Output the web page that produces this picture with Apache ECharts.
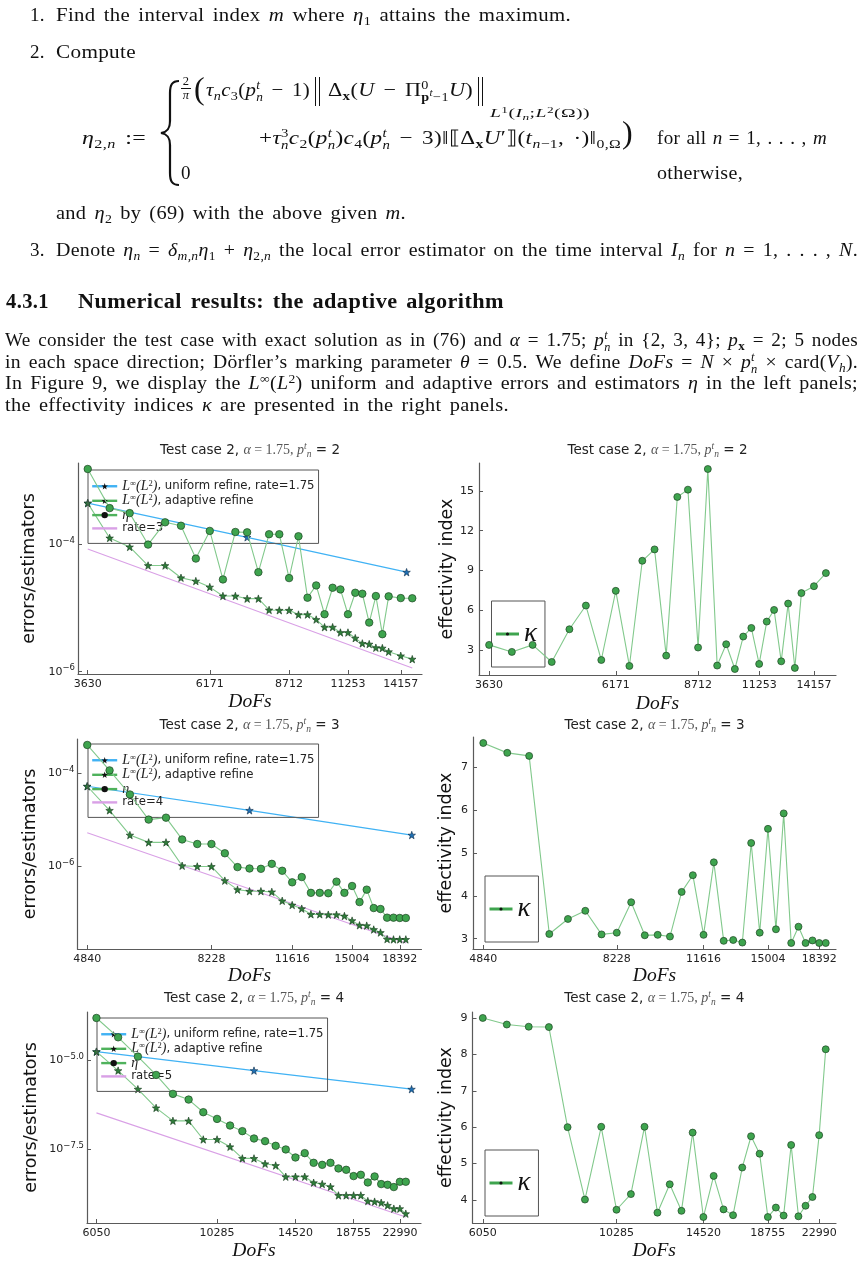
<!DOCTYPE html>
<html><head><meta charset="utf-8">
<script src="https://cdn.jsdelivr.net/npm/echarts@6.0.0/dist/echarts.min.js"></script>
<style>
html,body{margin:0;padding:0;background:#fff;}
#wrap{position:relative;width:862px;height:1265px;overflow:hidden;background:#fff}
#chart{position:absolute;left:0;top:0;width:862px;height:1265px;z-index:1}
#txt{position:absolute;left:0;top:0;width:862px;height:432px;font-family:'Liberation Serif','DejaVu Serif',serif;font-size:19px;letter-spacing:0.3px;color:#111;z-index:2}
.ln{position:absolute;white-space:nowrap;line-height:22px;transform-origin:0 50%}
i{font-style:italic}
sub,sup{font-size:68%;line-height:0;position:relative;vertical-align:baseline}
sub{top:0.3em}
sup{top:-0.45em}
.ss{display:inline-flex;flex-direction:column;font-size:64%;line-height:0.95em;vertical-align:0.55em;font-style:italic}
.ss sup{font-size:80%}
.frac{position:absolute;display:flex;flex-direction:column;align-items:center;font-size:12.5px;line-height:11px;width:12px}
.bar{width:10px;height:0;border-top:1px solid #111;margin:1px 0}
.big{position:absolute;font-size:32px;line-height:32px}
.dbar{position:absolute;width:3px;height:29px;border-left:1.2px solid #111;border-right:1.2px solid #111}
.hd{font-weight:bold;font-size:20.5px;letter-spacing:0.4px}
</style></head>
<body>
<div id="wrap">
<div id="chart"></div>
<div id="txt">
<div class="ln" style="left:30px;top:4px">1.</div>
<div class="ln" data-w="515" style="left:56px;top:4px">Find the interval index <i>m</i> where <i>η</i><sub>1</sub> attains the maximum.</div>
<div class="ln" style="left:30px;top:41px">2.</div>
<div class="ln" data-w="80" style="left:56px;top:41px">Compute</div>
<div class="ln" data-w="64" style="left:82px;top:127px"><i>η</i><sub>2,<i>n</i></sub> :=</div>
<svg style="position:absolute;left:158px;top:79px" width="26" height="108"><path d="M21 2 C14 2 12 6 12 14 L12 42 C12 50 9 53 3 54 C9 55 12 58 12 66 L12 94 C12 102 14 106 21 106" fill="none" stroke="#111" stroke-width="2.2"/></svg>
<div class="frac" style="left:180px;top:76px"><span>2</span><span class="bar"></span><span><i>π</i></span></div>
<div class="big" style="left:194px;top:72px">(</div>
<div class="ln" data-w="104" style="left:206px;top:79px"><i>τ<sub>n</sub>c</i><sub>3</sub>(<i>p</i><span class="ss"><span>t</span><span>n</span></span> − 1)</div>
<div class="dbar" style="left:315px;top:77px"></div>
<div class="ln" data-w="145" style="left:328px;top:79px">Δ<sub><b>x</b></sub>(<i>U</i> − Π<span class="ss"><span style="font-style:normal">0</span><span><b style="font-style:normal">p</b><sup>t</sup><span style="font-style:normal">−1</span></span></span><i>U</i>)</div>
<div class="dbar" style="left:478px;top:77px"></div>
<div class="ln" data-w="100" style="left:490px;top:105px;font-size:13px;line-height:16px"><i>L</i><sup>1</sup>(<i>I<sub>n</sub></i>;<i>L</i><sup>2</sup>(Ω))</div>
<div class="ln" data-w="362" style="left:259px;top:127px">+<i>τ</i><span class="ss"><span style="font-style:normal">3</span><span>n</span></span><i>c</i><sub>2</sub>(<i>p</i><span class="ss"><span>t</span><span>n</span></span>)<i>c</i><sub>4</sub>(<i>p</i><span class="ss"><span>t</span><span>n</span></span> − 3)‖⟦Δ<sub><b>x</b></sub><i>U</i>′⟧(<i>t</i><sub><i>n</i>−1</sub>, ·)‖<sub>0,Ω</sub></div>
<div class="big" style="left:622px;top:116px">)</div>
<div class="ln" data-w="170" style="left:657px;top:127px">for all <i>n</i> = 1, . . . , <i>m</i></div>
<div class="ln" style="left:181px;top:162px">0</div>
<div class="ln" data-w="86" style="left:657px;top:162px">otherwise,</div>
<div class="ln" data-w="350" style="left:56px;top:202px">and <i>η</i><sub>2</sub> by (69) with the above given <i>m</i>.</div>
<div class="ln" style="left:30px;top:239px">3.</div>
<div class="ln" data-w="802" style="left:56px;top:239px">Denote <i>η<sub>n</sub></i> = <i>δ</i><sub><i>m,n</i></sub><i>η</i><sub>1</sub> + <i>η</i><sub>2,<i>n</i></sub> the local error estimator on the time interval <i>I<sub>n</sub></i> for <i>n</i> = 1, . . . , <i>N</i>.</div>
<div class="ln hd" style="left:6px;top:290px">4.3.1</div>
<div class="ln hd" data-w="426" style="left:78px;top:290px">Numerical results: the adaptive algorithm</div>
<div class="ln" data-w="853" style="left:5px;top:329px">We consider the test case with exact solution as in (76) and <i>α</i> = 1.75; <i>p</i><span class="ss"><span>t</span><span>n</span></span> in {2, 3, 4}; <i>p</i><sub><b>x</b></sub> = 2; 5 nodes</div>
<div class="ln" data-w="853" style="left:5px;top:351px">in each space direction; Dörfler’s marking parameter <i>θ</i> = 0.5. We define <i>DoFs</i> = <i>N</i> × <i>p</i><span class="ss"><span>t</span><span>n</span></span> × card(<i>V<sub>h</sub></i>).</div>
<div class="ln" data-w="853" style="left:5px;top:372px">In Figure 9, we display the <i>L</i><sup>∞</sup>(<i>L</i><sup>2</sup>) uniform and adaptive errors and estimators <i>η</i> in the left panels;</div>
<div class="ln" data-w="504" style="left:5px;top:394px">the effectivity indices <i>κ</i> are presented in the right panels.</div>
</div>
</div>
<script>
// ---------- data ----------
const dofsP2 = [3630,3993,4356,4719,5082,5445,5808,6171,6534,6897,7260,7623,7986,8349,8712,9075,9438,9801,10164,10527,10890,11253,11616,11979,12342,12705,13068,13431,14157,14883];
const etaP2 = [1.493e-3,3.64e-4,3.04e-4,9.77e-5,2.18e-4,1.93e-4,5.90e-5,1.60e-4,2.78e-5,1.54e-4,1.52e-4,3.61e-5,1.42e-4,1.42e-4,2.92e-5,1.32e-4,1.44e-5,2.24e-5,7.93e-6,2.06e-5,1.94e-5,7.93e-6,1.72e-5,1.66e-5,5.87e-6,1.53e-5,3.86e-6,1.51e-5,1.42e-5,1.41e-5];
const errP2 = [4.36e-4,1.24e-4,8.97e-5,4.59e-5,4.59e-5,2.95e-5,2.62e-5,2.11e-5,1.53e-5,1.53e-5,1.39e-5,1.39e-5,9.25e-6,9.14e-6,9.14e-6,7.83e-6,7.83e-6,6.55e-6,4.97e-6,4.97e-6,4.10e-6,4.10e-6,3.35e-6,2.77e-6,2.70e-6,2.37e-6,2.34e-6,2.05e-6,1.77e-6,1.57e-6];
const kappaP2 = [3.38,2.85,3.38,2.09,4.56,6.35,2.24,7.46,1.79,9.73,10.59,2.57,14.55,15.10,3.18,16.66,1.82,3.43,1.56,4.01,4.66,1.94,5.14,6.02,2.14,6.50,1.64,7.29,7.81,8.80];
const uniDofsP2 = [3630,7260,14520];
const uniP2 = [4.36e-4,1.27e-4,3.61e-5];
const rateDofsP2 = [3630,14883];
const rateP2 = [8.36e-5,1.14e-6];
const xTicksP2 = [3630,6171,8712,11253,14157];
const yTicksP2 = [1e-4,1e-6];
const kTicksP2 = [3,6,9,12,15];

const dofsP3 = [4840,5324,5808,6292,6776,7260,7744,8228,8712,9196,9680,10164,10648,11132,11616,12100,12584,13068,13552,14036,14520,15004,15488,15972,16456,16940,17424,17908,18392,18876];
const etaP3 = [4.01e-4,1.14e-4,3.46e-5,1.00e-5,1.10e-5,3.75e-6,2.99e-6,2.99e-6,1.89e-6,9.53e-7,8.91e-7,8.77e-7,1.12e-6,7.96e-7,4.49e-7,5.83e-7,2.67e-7,2.67e-7,2.62e-7,4.65e-7,2.67e-7,3.75e-7,1.69e-7,3.13e-7,1.26e-7,1.20e-7,7.83e-8,7.83e-8,7.71e-8,7.71e-8];
const errP3 = [5.20e-5,1.58e-5,4.65e-6,3.24e-6,3.24e-6,1.02e-6,9.84e-7,9.84e-7,4.88e-7,3.13e-7,2.89e-7,2.89e-7,2.80e-7,1.80e-7,1.46e-7,1.22e-7,9.23e-8,9.23e-8,9.06e-8,9.06e-8,8.49e-8,6.76e-8,5.37e-8,5.28e-8,4.35e-8,3.75e-8,2.71e-8,2.67e-8,2.67e-8,2.67e-8];
const kappaP3 = [7.56,7.33,7.26,3.11,3.46,3.65,3.10,3.14,3.85,3.08,3.09,3.05,4.09,4.48,3.09,4.78,2.95,2.97,2.91,5.23,3.14,5.56,3.22,5.92,2.90,3.28,2.90,2.96,2.90,2.90];
const uniDofsP3 = [4840,9680,19360];
const uniP3 = [5.20e-5,1.58e-5,4.65e-6];
const rateDofsP3 = [4840,18876];
const rateP3 = [5.20e-6,2.23e-8];
const xTicksP3 = [4840,8228,11616,15004,18392];
const yTicksP3 = [1e-4,1e-6];
const kTicksP3 = [3,4,5,6,7];

const dofsP4 = [6050,6655,7260,7865,8470,9075,9680,10285,10890,11495,12100,12705,13310,13915,14520,15125,15730,16335,16940,17545,18150,18755,19360,19965,20570,21175,21780,22385,22990,23595];
const etaP4 = [1.60e-4,4.55e-5,1.30e-5,3.94e-6,1.15e-6,7.94e-7,3.49e-7,2.26e-7,1.47e-7,1.02e-7,6.32e-8,5.32e-8,3.93e-8,3.10e-8,1.84e-8,2.44e-8,1.30e-8,1.14e-8,1.30e-8,9.02e-9,8.26e-9,5.48e-9,5.97e-9,3.63e-9,5.36e-9,3.26e-9,3.12e-9,2.69e-9,3.79e-9,3.79e-9];
const errP4 = [1.79e-5,5.22e-6,1.56e-6,4.62e-7,1.99e-7,1.99e-7,5.93e-8,5.93e-8,3.68e-8,1.73e-8,1.73e-8,1.22e-8,1.09e-8,5.25e-9,5.25e-9,5.25e-9,3.56e-9,3.26e-9,2.74e-9,1.56e-9,1.56e-9,1.56e-9,1.56e-9,1.08e-9,1.04e-9,9.70e-10,8.17e-10,6.58e-10,6.58e-10,4.75e-10];
const kappaP4 = [9.00,8.82,8.76,8.75,6.00,4.01,6.01,3.73,4.16,6.01,3.65,4.43,3.70,5.85,3.53,4.66,3.74,3.58,4.89,5.75,5.27,3.53,3.79,3.57,5.51,3.55,3.84,4.08,5.78,8.14];
const uniDofsP4 = [6050,12100,24200];
const uniP4 = [1.79e-5,5.22e-6,1.56e-6];
const rateDofsP4 = [6050,23595];
const rateP4 = [3.34e-7,3.83e-10];
const xTicksP4 = [6050,10285,14520,18755,22990];
const yTicksP4 = [1e-5,3.16228e-8];
const kTicksP4 = [4,5,6,7,8,9];

const panelP = ['2','3','4'];
const rateLabels = ['rate=3','rate=4','rate=5'];

// ---------- text fitting for the page text ----------
document.querySelectorAll('#txt [data-w]').forEach(el => {
  const target = +el.dataset.w;
  const w0 = el.getBoundingClientRect().width;
  const spaces = (el.textContent.match(/ /g) || []).length;
  let w1 = w0;
  if (w0 < target && spaces > 0) {
    const ws = Math.min((target - w0) / spaces, 2.5);
    el.style.wordSpacing = ws + 'px';
    w1 = w0 + ws * spaces;
  }
  if (Math.abs(w1 - target) > 0.5) el.style.transform = 'scaleX(' + (target / w1) + ')';
});

// ---------- chart ----------
const SANS = "'DejaVu Sans', sans-serif";
const SERIF = "'Liberation Serif', 'DejaVu Serif', serif";
const AX = '#5a5a5a', LAB = '#222';
const GREEN = '#3ea44e', GREENLINE = '#82c98c', BLUELINE = '#40b2f4', RATE = '#d9a0e6';
const STAR = 'path://M0,-10 L2.35,-3.24 9.51,-3.09 3.8,1.24 5.88,8.09 0,4 -5.88,8.09 -3.8,1.24 -9.51,-3.09 -2.35,-3.24 Z';

const data = [
  {dofs:dofsP2, eta:etaP2, err:errP2, kappa:kappaP2, uniX:uniDofsP2, uni:uniP2, rateX:rateDofsP2, rate:rateP2, xt:xTicksP2, yt:yTicksP2, kt:kTicksP2, yDec:0},
  {dofs:dofsP3, eta:etaP3, err:errP3, kappa:kappaP3, uniX:uniDofsP3, uni:uniP3, rateX:rateDofsP3, rate:rateP3, xt:xTicksP3, yt:yTicksP3, kt:kTicksP3, yDec:0},
  {dofs:dofsP4, eta:etaP4, err:errP4, kappa:kappaP4, uniX:uniDofsP4, uni:uniP4, rateX:rateDofsP4, rate:rateP4, xt:xTicksP4, yt:yTicksP4, kt:kTicksP4, yDec:1}
];
const layout = [
  {gL:{left:78,top:463,width:344,height:211}, gR:{left:479,top:463,width:357,height:212}, titleTop:441, legL:[88,470], legR:[491.5,601], yGapL:40, yGapR:22, xGapL:18, xGapR:19},
  {gL:{left:77.5,top:739,width:344,height:210}, gR:{left:473,top:737,width:363,height:212}, titleTop:716, legL:[88,744], legR:[485,876], yGapL:38, yGapR:18, xGapL:17, xGapR:17},
  {gL:{left:87,top:1012,width:334,height:211}, gR:{left:472.5,top:1012,width:363.5,height:211}, titleTop:989, legL:[97,1018], legR:[485,1150], yGapL:47, yGapR:17, xGapL:18, xGapR:18}
];

function logRange(arrs) {
  const all = [].concat(...arrs);
  const lo = Math.log10(Math.min(...all)), hi = Math.log10(Math.max(...all));
  const pad = (hi - lo) * 0.03;
  return [Math.pow(10, lo - pad), Math.pow(10, hi + pad)];
}
function linRange(a) {
  const lo = Math.min(...a), hi = Math.max(...a), pad = (hi - lo) * 0.03;
  return [lo - pad, hi + pad];
}
function pairs(xs, ys) { return xs.map((x, i) => [x, ys[i]]); }

const titleRich = {
  a:{fontFamily:SANS, fontSize:13.5, fontWeight:'normal', color:'#222', lineHeight:18},
  mi:{fontFamily:SERIF, fontStyle:'italic', fontWeight:'normal', fontSize:14, color:'#555', lineHeight:18},
  m:{fontFamily:SERIF, fontWeight:'normal', fontSize:14, color:'#555', lineHeight:18},
  u:{fontFamily:SERIF, fontStyle:'italic', fontWeight:'normal', fontSize:9.5, color:'#555', lineHeight:9, verticalAlign:'top'},
  d:{fontFamily:SERIF, fontStyle:'italic', fontWeight:'normal', fontSize:9.5, color:'#555', lineHeight:9, verticalAlign:'bottom'}
};
const legRich = {
  t:{fontFamily:SANS, fontSize:11.7, color:'#222', lineHeight:14.5},
  i:{fontFamily:SERIF, fontStyle:'italic', fontSize:14, color:'#222', lineHeight:14.5},
  s:{fontFamily:SERIF, fontSize:8.5, color:'#222', lineHeight:8, verticalAlign:'top'},
  k:{fontFamily:SERIF, fontStyle:'italic', fontSize:27, color:'#111', lineHeight:26}
};
const legNames = {
  uniform:'{i|L}{s|∞}{i|(L}{s|2}{i|)}{t|, uniform refine, rate=1.75}',
  adaptive:'{i|L}{s|∞}{i|(L}{s|2}{i|)}{t|, adaptive refine}',
  eta:'{i|η}',
  rate0:'{t|' + rateLabels[0] + '}', rate1:'{t|' + rateLabels[1] + '}', rate2:'{t|' + rateLabels[2] + '}',
  kappa:'{k|κ}'
};
const axisBase = (gi) => ({
  gridIndex: gi,
  axisLine:{show:true, onZero:false, lineStyle:{color:AX, width:1.2}},
  splitLine:{show:false}, minorTick:{show:false}, minorSplitLine:{show:false}
});

const option = {animation:false, backgroundColor:'transparent', title:[], grid:[], xAxis:[], yAxis:[], legend:[], series:[]};

data.forEach((d, r) => {
  const L = layout[r];
  const gl = 2 * r, gr = 2 * r + 1;
  option.grid.push(Object.assign({outerBoundsMode:'none', containLabel:false}, L.gL));
  option.grid.push(Object.assign({outerBoundsMode:'none', containLabel:false}, L.gR));
  [L.gL, L.gR].forEach(g => {
    option.title.push({
      text:'{a|Test case 2, }{mi|α}{m| = 1.75, }{mi|p}{u|t}{d|n}{a| = ' + panelP[r] + '}',
      left: g.left + g.width / 2, top: L.titleTop, textAlign:'center', padding:0,
      textStyle:{fontWeight:'normal', rich:titleRich}
    });
  });
  const xrL = logRange([d.dofs, d.uniX, d.rateX]);
  const xrR = logRange([d.dofs]);
  const yrL = logRange([d.eta, d.err, d.uni, d.rate]);
  const yrR = linRange(d.kappa);
  const xAxisCfg = (gi, xr, gap) => Object.assign(axisBase(gi), {
    type:'log', logBase:10, min:xr[0], max:xr[1],
    axisTick:{show:true, inside:true, length:4, customValues:d.xt, lineStyle:{color:AX}},
    axisLabel:{show:true, customValues:d.xt, formatter:v => String(Math.round(v)), fontFamily:SANS, fontSize:11, color:LAB, margin:5},
    name:'DoFs', nameLocation:'middle', nameGap:gap,
    nameTextStyle:{fontFamily:SERIF, fontStyle:'italic', fontSize:19.5, color:'#111'}
  });
  option.xAxis.push(xAxisCfg(gl, xrL, L.xGapL));
  option.xAxis.push(xAxisCfg(gr, xrR, L.xGapR));
  option.yAxis.push(Object.assign(axisBase(gl), {
    type:'log', logBase:10, min:yrL[0], max:yrL[1],
    axisTick:{show:true, inside:true, length:4, customValues:d.yt, lineStyle:{color:AX}},
    axisLabel:{show:true, customValues:d.yt, margin:3,
      formatter:v => '{b|10}{e|' + Math.log10(v).toFixed(d.yDec).replace('-', '−') + '}',
      rich:{b:{fontFamily:SANS, fontSize:11, color:LAB, lineHeight:16}, e:{fontFamily:SANS, fontSize:8.5, color:LAB, lineHeight:9, verticalAlign:'top'}}},
    name:'errors/estimators', nameLocation:'middle', nameRotate:90, nameGap:L.yGapL,
    nameTextStyle:{fontFamily:SANS, fontSize:17.5, color:'#111'}
  }));
  option.yAxis.push(Object.assign(axisBase(gr), {
    type:'value', min:yrR[0], max:yrR[1],
    axisTick:{show:true, inside:true, length:4, customValues:d.kt, lineStyle:{color:AX}},
    axisLabel:{show:true, customValues:d.kt, margin:5, fontFamily:SANS, fontSize:11, color:LAB},
    name:'effectivity index', nameLocation:'middle', nameRotate:90, nameGap:L.yGapR,
    nameTextStyle:{fontFamily:SANS, fontSize:17.5, color:'#111'}
  }));
  const rateName = 'rate' + r;
  option.series.push(
    {name:rateName, type:'line', xAxisIndex:gl, yAxisIndex:gl, data:pairs(d.rateX, d.rate), symbol:'none', z:1,
      lineStyle:{color:RATE, width:1.1}, itemStyle:{color:RATE}},
    {name:'uniform', type:'line', xAxisIndex:gl, yAxisIndex:gl, data:pairs(d.uniX, d.uni), symbol:STAR, symbolSize:7.5, z:2,
      lineStyle:{color:BLUELINE, width:1.2}, itemStyle:{color:'#1f70b4', borderColor:'#0c2a47', borderWidth:0.6}},
    {name:'adaptive', type:'line', xAxisIndex:gl, yAxisIndex:gl, data:pairs(d.dofs, d.err), symbol:STAR, symbolSize:7.5, z:3,
      lineStyle:{color:GREENLINE, width:1.1}, itemStyle:{color:'#2f7d3a', borderColor:'#12351a', borderWidth:0.6}},
    {name:'eta', type:'line', xAxisIndex:gl, yAxisIndex:gl, data:pairs(d.dofs, d.eta), symbol:'circle', symbolSize:7.5, z:4,
      lineStyle:{color:GREENLINE, width:1.1}, itemStyle:{color:GREEN, borderColor:'#1c4323', borderWidth:0.7}},
    {name:'kappa', type:'line', xAxisIndex:gr, yAxisIndex:gr, data:pairs(d.dofs, d.kappa), symbol:'circle', symbolSize:7, z:4,
      lineStyle:{color:GREENLINE, width:1.1}, itemStyle:{color:GREEN, borderColor:'#1c4323', borderWidth:0.7}}
  );
  option.legend.push({
    orient:'vertical', left:L.legL[0], top:L.legL[1], padding:[9,4,9,3], itemWidth:25, itemHeight:8, itemGap:0.3,
    borderColor:'#555', borderWidth:1, backgroundColor:'transparent', selectedMode:false,
    data:[
      {name:'uniform', itemStyle:{color:'#111', borderWidth:0}, lineStyle:{color:BLUELINE, width:2.4}},
      {name:'adaptive', itemStyle:{color:'#111', borderWidth:0}, lineStyle:{color:'#4fb25c', width:2.4}},
      {name:'eta', itemStyle:{color:'#111', borderWidth:0}, lineStyle:{color:'#4fb25c', width:2.4}},
      {name:rateName, icon:'path://M0,0H25V2.4H0Z', itemStyle:{color:RATE}}
    ],
    formatter:n => legNames[n], textStyle:{rich:legRich}
  });
  option.legend.push({
    orient:'vertical', left:L.legR[0], top:L.legR[1], padding:[19.5,8,19.5,3], itemWidth:23, itemHeight:4,
    borderColor:'#555', borderWidth:1, backgroundColor:'transparent', selectedMode:false,
    data:[{name:'kappa', itemStyle:{color:'#111', borderWidth:0}, lineStyle:{color:GREEN, width:3}}],
    formatter:n => legNames[n], textStyle:{rich:legRich}
  });
});

const chart = echarts.init(document.getElementById('chart'), null, {renderer:'canvas'});
chart.setOption(option);
</script>
</body></html>
